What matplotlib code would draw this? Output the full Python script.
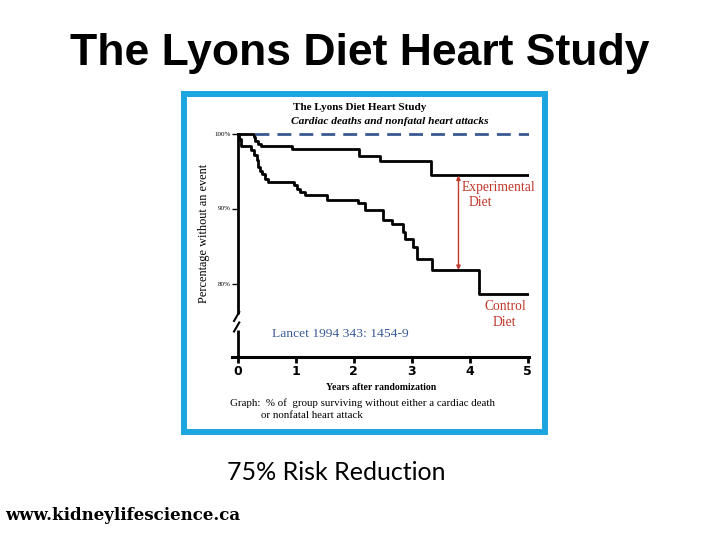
import matplotlib
matplotlib.use("Agg")
import matplotlib.pyplot as plt
from matplotlib.patches import Rectangle

# Kaplan-Meier style step data (years, % without an event)
control_t = [0, 0.03, 0.06, 0.24, 0.28, 0.33, 0.35, 0.38, 0.42, 0.47, 0.53,
             0.97, 1.03, 1.08, 1.16, 1.54, 2.08, 2.20, 2.51, 2.66, 2.86,
             2.89, 3.03, 3.09, 3.35, 4.17, 5.03]
control_pct = [100, 99.3, 98.3, 97.8, 97.2, 96.5, 95.6, 95.0, 94.6, 94.0, 93.6,
               93.1, 92.6, 92.2, 91.8, 91.1, 90.7, 89.8, 88.4, 87.9, 86.9,
               85.9, 84.9, 83.2, 81.8, 78.6, 78.6]

exp_t = [0, 0.28, 0.31, 0.35, 0.40, 0.94, 2.09, 2.46, 3.33, 5.03]
exp_pct = [100, 99.6, 99.0, 98.6, 98.3, 97.9, 97.0, 96.3, 94.4, 94.4]

ref_t = [0.30, 5.03]
ref_pct = [100, 100]

arrow_t = 3.81
xticks = [0, 1, 2, 3, 4, 5]
yticks = [100, 90, 80]
ytick_labels = ["100%", "90%", "80%"]

W, H = 720, 540
def fx(px):
    return px / W
def fy(py):
    return 1 - py / H

plt.rcParams['lines.scale_dashes'] = False
fig = plt.figure(figsize=(7.2, 5.4), dpi=100)
fig.patch.set_facecolor("white")

# blue frame around the pasted graph
fig.patches.append(Rectangle((fx(184), fy(432)), fx(545) - fx(184), fy(94) - fy(432),
                             transform=fig.transFigure, fill=False,
                             edgecolor="#1ba6e0", linewidth=4.3))

# slide texts
fig.text(fx(360), fy(54), "The Lyons Diet Heart Study", ha="center", va="center",
         fontsize=32, fontweight="bold", family="Liberation Sans")
fig.text(fx(336), fy(472), "75% Risk Reduction", ha="center", va="center",
         fontsize=18, family="Lato")
fig.text(fx(5), fy(515), "www.kidneylifescience.ca", ha="left", va="center",
         fontsize=12, fontweight="bold", family="DejaVu Serif")

# graph inner titles
serif = "Liberation Serif"
fig.text(fx(360), fy(107), "The Lyons Diet Heart Study", ha="center", va="center",
         fontsize=8, fontweight="bold", family=serif)
fig.text(fx(390), fy(121), "Cardiac deaths and nonfatal heart attacks", ha="center",
         va="center", fontsize=8.2, fontweight="bold", style="italic", family=serif)

# axes: x 0 -> px 237.5, 58 px per year ; y 100% -> px 133.3, 7.5 px per %
xlo, xhi = -0.09, 5.03
ylo, yhi = 70.2, 101
ax = fig.add_axes([fx(237.5 + xlo * 58), fy(357), (xhi - xlo) * 58 / W,
                   (yhi - ylo) * 7.5 / H])
ax.set_xlim(xlo, xhi)
ax.set_ylim(ylo, yhi)
ax.patch.set_alpha(0)
for s in ["top", "right", "left"]:
    ax.spines[s].set_visible(False)
ax.spines["bottom"].set_linewidth(2.2)

ax.step(exp_t, exp_pct, where="post", color="black", lw=2)
ax.step(control_t, control_pct, where="post", color="black", lw=2)
ax.plot(ref_t, ref_pct, color="#3a5a92", lw=2, dashes=(10, 5.8))

# y axis line with a break
ax.plot([0, 0], [100, 76.0], color="black", lw=2, clip_on=False, solid_capstyle="butt")
ax.plot([0, 0], [73.8, ylo], color="black", lw=2, clip_on=False, solid_capstyle="butt")
for yb in [75.6, 74.2]:
    ax.plot([-0.06, 0.03], [yb - 0.6, yb + 0.6], color="black", lw=1.5, clip_on=False)

ax.set_xticks(xticks)
ax.set_xticklabels([str(t) for t in xticks], fontsize=9, fontweight="bold",
                   family="DejaVu Sans")
ax.tick_params(axis="x", direction="out", length=4, width=2, pad=2)
ax.set_yticks(yticks)
ax.set_yticklabels(ytick_labels, fontsize=5, family=serif)
ax.tick_params(axis="y", direction="in", length=3.5, width=1, pad=1)

ax.set_xlabel("Years after randomization", fontsize=7, fontweight="bold",
              family=serif, labelpad=3)
ax.set_ylabel("Percentage without an event", fontsize=8.8, family=serif)
ax.yaxis.set_label_coords(-0.075, 0.536)

# arrow between the two curves
red = "#c0392b"
ax.annotate("", xy=(arrow_t, 94.4), xytext=(arrow_t, 81.8),
            arrowprops=dict(arrowstyle="<|-|>", color=red, lw=1,
                            mutation_scale=6, shrinkA=0, shrinkB=0))
ax.text(3.86, 92.8, "Experimental", color=red, fontsize=9.8, family=serif,
        ha="left", va="center")
ax.text(3.98, 90.8, "Diet", color=red, fontsize=9.8, family=serif,
        ha="left", va="center")
ax.text(4.61, 76.9, "Control", color=red, fontsize=9.8, family=serif,
        ha="center", va="center")
ax.text(4.61, 74.8, "Diet", color=red, fontsize=9.8, family=serif,
        ha="center", va="center")
ax.text(0.6, 73.2, "Lancet 1994 343: 1454-9", color="#3a5a96", fontsize=9.7,
        family=serif, ha="left", va="center")

# caption under the graph
fig.text(fx(230), fy(403), "Graph:  % of  group surviving without either a cardiac death",
         ha="left", va="center", fontsize=7.8, family=serif)
fig.text(fx(261), fy(416), "or nonfatal heart attack", ha="left", va="center",
         fontsize=7.8, family=serif)

fig.savefig("out.png", dpi=100)
